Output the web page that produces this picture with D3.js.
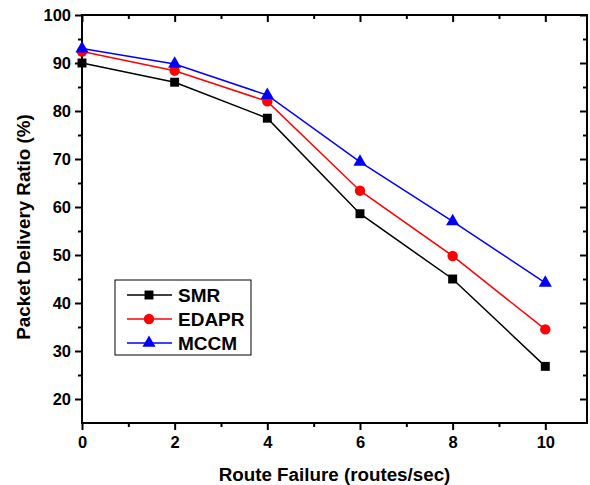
<!DOCTYPE html>
<html>
<head>
<meta charset="utf-8">
<script src="https://cdn.jsdelivr.net/npm/d3@7"></script>
<style>
  body { margin: 0; background: #fff; }
  svg text { font-family: "Liberation Sans", Arial, sans-serif; font-weight: bold; }
</style>
</head>
<body>
<div id="chart"></div>
<script>
// data
var failures = [0, 2, 4, 6, 8, 10];
var smr = [90, 86, 78.5, 58.6, 45, 26.8];
var edapr = [92.4, 88.4, 82, 63.4, 49.8, 34.5];
var mccm = [93, 89.8, 83.3, 69.4, 57, 44.2];
var xTicks = [0, 2, 4, 6, 8, 10];
var yTicks = [20, 30, 40, 50, 60, 70, 80, 90, 100];

var series = [
  {name: "SMR", values: smr, color: "#000000", symbol: d3.symbolSquare, size: 80},
  {name: "EDAPR", values: edapr, color: "#ff0000", symbol: d3.symbolCircle, size: 85},
  {name: "MCCM", values: mccm, color: "#0000ff", symbol: d3.symbolTriangle, size: 75}
];

var W = 590, H = 485;
var margin = {top: 15, right: 3, bottom: 62, left: 82};
var width = W - margin.left - margin.right,
    height = H - margin.top - margin.bottom;

var svg = d3.select("#chart").append("svg")
    .attr("width", W)
    .attr("height", H);

var g = svg.append("g")
    .attr("transform", "translate(" + margin.left + "," + margin.top + ")");

var x = d3.scaleLinear().domain([0, 10.9]).range([0, width]);
var y = d3.scaleLinear().domain([15, 100]).range([height, 0]);

var minorX = d3.range(1, 11, 2);
var minorY = d3.range(25, 100, 10);

// axes
function styleAxis(sel) {
  sel.select(".domain").remove();
  sel.selectAll(".tick line").attr("stroke", "#000").attr("stroke-width", 2);
  sel.selectAll(".tick text").style("font-size", "16.5px").attr("fill", "#000");
}

g.append("g")
    .attr("transform", "translate(0," + height + ")")
    .call(d3.axisBottom(x).tickValues(xTicks).tickSize(7).tickPadding(6))
    .call(styleAxis);
g.append("g")
    .attr("transform", "translate(0," + height + ")")
    .call(d3.axisBottom(x).tickValues(minorX).tickSize(4).tickFormat(""))
    .call(styleAxis);
g.append("g")
    .call(d3.axisLeft(y).tickValues(yTicks).tickSize(7).tickPadding(4))
    .call(styleAxis);
g.append("g")
    .call(d3.axisLeft(y).tickValues(minorY).tickSize(4).tickFormat(""))
    .call(styleAxis);
// top and right: inward ticks
g.append("g")
    .call(d3.axisTop(x).tickValues(xTicks).tickSize(-7).tickFormat(""))
    .call(styleAxis);
g.append("g")
    .call(d3.axisTop(x).tickValues(minorX).tickSize(-4).tickFormat(""))
    .call(styleAxis);
g.append("g")
    .attr("transform", "translate(" + width + ",0)")
    .call(d3.axisRight(y).tickValues(yTicks).tickSize(-7).tickFormat(""))
    .call(styleAxis);
g.append("g")
    .attr("transform", "translate(" + width + ",0)")
    .call(d3.axisRight(y).tickValues(minorY).tickSize(-4).tickFormat(""))
    .call(styleAxis);

g.append("rect")
    .attr("width", width)
    .attr("height", height)
    .attr("fill", "none")
    .attr("stroke", "#000")
    .attr("stroke-width", 2);

// lines + markers
var line = d3.line()
    .x(function(d, i) { return x(failures[i]); })
    .y(function(d) { return y(d); });

series.forEach(function(s) {
  g.append("path")
      .datum(s.values)
      .attr("fill", "none")
      .attr("stroke", s.color)
      .attr("stroke-width", 1.5)
      .attr("d", line);
  g.selectAll(null)
      .data(s.values)
      .enter().append("path")
      .attr("d", d3.symbol().type(s.symbol).size(s.size))
      .attr("fill", s.color)
      .attr("transform", function(d, i) {
        return "translate(" + x(failures[i]) + "," + y(d) + ")";
      });
});

// legend
var legend = svg.append("g").attr("transform", "translate(115,280)");
legend.append("rect")
    .attr("width", 136)
    .attr("height", 75)
    .attr("fill", "#fff")
    .attr("stroke", "#000")
    .attr("stroke-width", 1);

series.forEach(function(s, i) {
  var ly = 15 + i * 24;
  legend.append("line")
      .attr("x1", 12).attr("x2", 57)
      .attr("y1", ly).attr("y2", ly)
      .attr("stroke", s.color)
      .attr("stroke-width", 1.5);
  legend.append("path")
      .attr("d", d3.symbol().type(s.symbol).size(s.size))
      .attr("fill", s.color)
      .attr("transform", "translate(34," + ly + ")");
  legend.append("text")
      .attr("x", 63)
      .attr("y", ly + 7)
      .style("font-size", "19px")
      .text(s.name);
});

// axis titles
svg.append("text")
    .attr("x", margin.left + width / 2)
    .attr("y", 481)
    .attr("text-anchor", "middle")
    .style("font-size", "18.8px")
    .text("Route Failure (routes/sec)");

svg.append("text")
    .attr("transform", "translate(30,227) rotate(-90)")
    .attr("text-anchor", "middle")
    .style("font-size", "18.8px")
    .text("Packet Delivery Ratio (%)");
</script>
</body>
</html>
